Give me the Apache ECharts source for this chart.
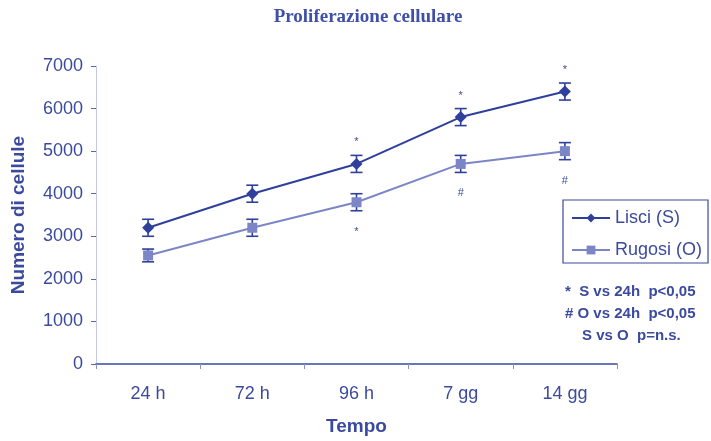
<!DOCTYPE html>
<html><head><meta charset="utf-8">
<script src="https://cdn.jsdelivr.net/npm/echarts@6/dist/echarts.min.js"></script>
<style>html,body{margin:0;padding:0;background:#fff}#c{width:711px;height:441px}</style>
</head><body><div id="c"></div>
<script>
var categories = ['24 h', '72 h', '96 h', '7 gg', '14 gg'];
var lisci = [3200, 4000, 4700, 5800, 6400];
var lisciErr = [200, 200, 200, 200, 200];
var rugosi = [2550, 3200, 3800, 4700, 5000];
var rugosiErr = [150, 200, 200, 200, 200];
var lisciMarks = ['', '', '*', '*', '*'];
var rugosiMarks = ['', '', '*', '#', '#'];
var yTicks = [0, 1000, 2000, 3000, 4000, 5000, 6000, 7000];

var cDark = '#2f3f9c', cLight = '#7c86c6', cText = '#3b4a9e';

function errSeries(vals, errs, color) {
  return {
    type: 'custom', silent: true, z: 3,
    data: vals.map(function (v, i) { return [i, v - errs[i], v + errs[i]]; }),
    renderItem: function (params, api) {
      var lo = api.coord([api.value(0), api.value(1)]);
      var hi = api.coord([api.value(0), api.value(2)]);
      var w = 6;
      var st = { stroke: color, lineWidth: 1.6 };
      return { type: 'group', children: [
        { type: 'line', shape: { x1: lo[0], y1: lo[1], x2: hi[0], y2: hi[1] }, style: st },
        { type: 'line', shape: { x1: lo[0] - w, y1: lo[1], x2: lo[0] + w, y2: lo[1] }, style: st },
        { type: 'line', shape: { x1: hi[0] - w, y1: hi[1], x2: hi[0] + w, y2: hi[1] }, style: st }
      ]};
    }
  };
}
function withMarks(vals, marks, pos, dist) {
  return vals.map(function (v, i) {
    return { value: v, label: { show: marks[i] !== '', formatter: marks[i], position: pos, distance: dist,
      color: cText, fontSize: 11, fontFamily: 'Liberation Sans' } };
  });
}

var chart = echarts.init(document.getElementById('c'));
chart.setOption({
  animation: false,
  title: { text: 'Proliferazione cellulare', left: 363, top: 3, textAlign: 'center',
    textStyle: { fontFamily: 'Liberation Serif', fontWeight: 'bold', fontSize: 19, color: '#3f50a6' } },
  grid: { left: 96, right: 94, top: 66, bottom: 74 },
  legend: {
    orient: 'vertical', left: 563, top: 200, itemGap: 14, padding: [9, 6, 4, 8],
    borderColor: cText, borderWidth: 1.2, itemWidth: 38, itemHeight: 11,
    textStyle: { fontFamily: 'Liberation Sans', fontSize: 18, color: cText },
    data: [{ name: 'Lisci (S)' }, { name: 'Rugosi (O)' }]
  },
  xAxis: {
    type: 'category', data: categories, boundaryGap: true,
    name: 'Tempo', nameLocation: 'middle', nameGap: 53,
    nameTextStyle: { fontFamily: 'Liberation Sans', fontWeight: 'bold', fontSize: 19, color: cText },
    axisLine: { lineStyle: { color: '#3a4aa0', width: 1.5 } },
    axisTick: { show: true, length: 5, lineStyle: { color: '#8890c8' } },
    axisLabel: { fontFamily: 'Liberation Sans', fontSize: 18, color: cText, margin: 21 }
  },
  yAxis: {
    type: 'value', min: 0, max: 7000, interval: 1000,
    name: 'Numero di cellule', nameLocation: 'middle', nameGap: 68,
    nameTextStyle: { fontFamily: 'Liberation Sans', fontWeight: 'bold', fontSize: 19, color: cText },
    axisLine: { show: true, lineStyle: { color: '#c4c8e6', width: 1 } },
    axisTick: { show: true, length: 5, lineStyle: { color: '#5a67b0' } },
    splitLine: { show: false },
    axisLabel: { fontFamily: 'Liberation Sans', fontSize: 18, color: cText, margin: 13,
      formatter: function (v) { return yTicks.indexOf(v) >= 0 ? String(v) : ''; } }
  },
  series: [
    { name: 'Lisci (S)', type: 'line', data: withMarks(lisci, lisciMarks, 'top', 10), z: 4,
      symbol: 'diamond', symbolSize: 12, color: cDark,
      lineStyle: { color: cDark, width: 2 }, itemStyle: { color: cDark } },
    { name: 'Rugosi (O)', type: 'line', data: withMarks(rugosi, rugosiMarks, 'bottom', 19), z: 4,
      symbol: 'rect', symbolSize: 10, color: cLight,
      lineStyle: { color: cLight, width: 2 }, itemStyle: { color: cLight } },
    errSeries(lisci, lisciErr, cDark),
    errSeries(rugosi, rugosiErr, cDark)
  ],
  graphic: [
    { type: 'text', left: 565, top: 284, style: { text: '*  S vs 24h  p<0,05', fill: cText,
      font: 'bold 15px "Liberation Sans"' } },
    { type: 'text', left: 565, top: 306, style: { text: '# O vs 24h  p<0,05', fill: cText,
      font: 'bold 15px "Liberation Sans"' } },
    { type: 'text', left: 582, top: 328, style: { text: 'S vs O  p=n.s.', fill: cText,
      font: 'bold 15px "Liberation Sans"' } }
  ]
});
</script></body></html>
